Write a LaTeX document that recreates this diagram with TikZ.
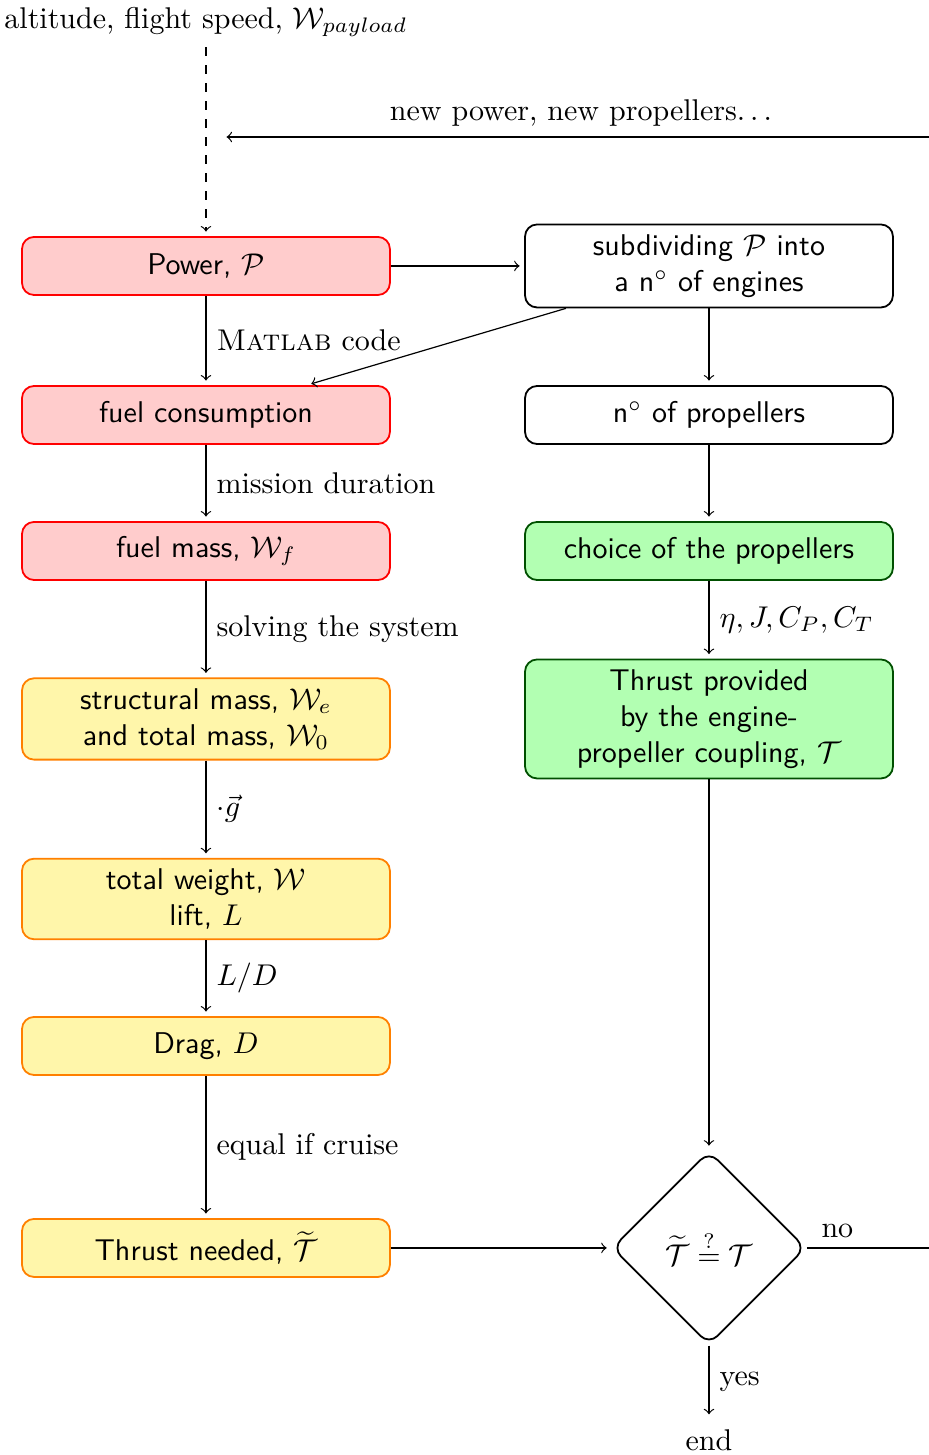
\documentclass[tikz,border=0pt]{standalone}
\usepackage{amsmath, amssymb}
\usepackage{tikz}
\usetikzlibrary{shapes.geometric,calc}
\definecolor{lightyellow}{RGB}{255,246,170}
\definecolor{darkgreen}{RGB}{0,80,0}
\tikzstyle{redbox} = [rectangle, rounded corners, minimum width=4.31cm, minimum height=0.68cm, text centered, align=center, font=\sffamily, semithick, draw=red, fill=red!20]
\tikzstyle{yellowbox} = [rectangle, rounded corners, minimum width=4.31cm, minimum height=0.68cm, text centered, align=center, font=\sffamily, semithick, draw=orange, fill=lightyellow]
\tikzstyle{greenbox} = [rectangle, rounded corners, minimum width=4.31cm, minimum height=0.68cm, text centered, align=center, font=\sffamily, semithick, draw=darkgreen, fill=green!30]
\tikzstyle{whitebox} = [rectangle, rounded corners, minimum width=4.31cm, minimum height=0.68cm, text centered, align=center, font=\sffamily, semithick, draw=black]
\tikzstyle{decision} = [diamond, rounded corners, minimum width=2.27cm, minimum height=2.27cm, aspect=1, inner sep=0pt, text centered, semithick, draw=black]
\tikzstyle{arrow} = [->, shorten >=1.5pt]
\begin{document}
\begin{tikzpicture}
      \useasboundingbox (0,0) rectangle (10.872,-17.046);
      % left column
      \node (input) at (2.413,-0.258) {altitude, flight speed, $\mathcal{W}_{payload}$};
      \node (power)[redbox] at (2.413,-3.116) {Power, $\mathcal{P}$};
      \node (fuelc)[redbox] at (2.413,-4.862) {fuel consumption};
      \node (fuelm)[redbox] at (2.413,-6.455) {fuel mass, $\mathcal{W}_f$};
      \node (mass)[yellowbox] at (2.413,-8.423) {structural mass, $\mathcal{W}_e$\\and total mass, $\mathcal{W}_0$};
      \node (weight)[yellowbox] at (2.413,-10.532) {total weight, $\mathcal{W}$\\lift, $L$};
      \node (drag)[yellowbox] at (2.413,-12.254) {Drag, $D$};
      \node (thrustn)[yellowbox] at (2.413,-14.620) {Thrust needed, $\widetilde{\mathcal{T}}$};
      % right column
      \node (subdiv)[whitebox] at (8.306,-3.116) {subdividing $\mathcal{P}$ into\\a n$^\circ$ of engines};
      \node (npro)[whitebox] at (8.306,-4.862) {n$^\circ$ of propellers};
      \node (choice)[greenbox] at (8.306,-6.455) {choice of the propellers};
      \node (thrustp)[greenbox] at (8.306,-8.423) {Thrust provided\\by the engine-\\propeller coupling, $\mathcal{T}$};
      \node (dec)[decision] at (8.306,-14.620) {$\widetilde{\mathcal{T}} \stackrel{?}{=} \mathcal{T}$};
      \node (finish) at (8.306,-16.870) {end};
      \coordinate (loopr) at (11.01,-14.620);
      \coordinate (loopend) at (2.601,-1.605);
      % connectors
      \draw [arrow, dashed](input)--(power);
      \draw [arrow](power)--(subdiv);
      \draw [arrow](power)-- node[midway, right] {\textsc{Matlab} code} (fuelc);
      \draw [arrow](subdiv)--(fuelc);
      \draw [arrow](fuelc)-- node[midway, right] {mission duration} (fuelm);
      \draw [arrow](fuelm)-- node[midway, right] {solving the system} (mass);
      \draw [arrow](mass)-- node[midway, right] {$\cdot\vec{g}$} (weight);
      \draw [arrow](weight)-- node[midway, right] {$L/D$} (drag);
      \draw [arrow](drag)-- node[midway, right] {equal if cruise} (thrustn);
      \draw [arrow](subdiv)--(npro);
      \draw [arrow](npro)--(choice);
      \draw [arrow](choice)-- node[midway, right] {$\eta, J, C_P, C_T$} (thrustp);
      \draw [arrow](thrustp)--(dec);
      \draw [arrow](thrustn)--(dec);
      \draw [arrow](dec)-- node[midway, right] {yes} (finish);
      \draw [arrow](dec.east)-- node[pos=0.23, above] {no} (loopr) |- node[pos=0.75, above] {new power, new propellers$\ldots$} (loopend);
    \end{tikzpicture}
\end{document}
